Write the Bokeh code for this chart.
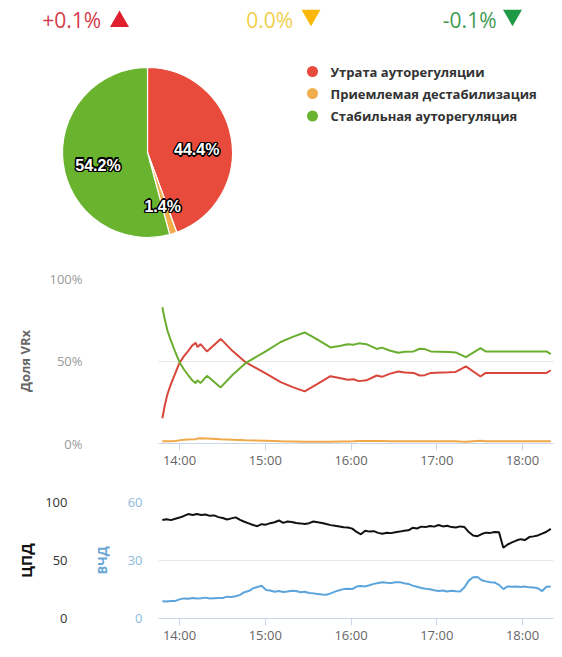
import numpy as np
from bokeh.plotting import figure
from bokeh.models import Range1d, LinearAxis, FixedTicker
from bokeh.layouts import column
from bokeh.core.properties import value
from bokeh.embed import file_html
from bokeh.resources import INLINE

# ---------------- data ----------------
CHANGE_LABELS = ["+0.1%", "0.0%", "-0.1%"]
CHANGE_MARKERS = ["triangle", "inverted_triangle", "inverted_triangle"]
CHANGE_TEXT_COLORS = ["#d43d4c", "#f0cf4c", "#3f9a52"]
CHANGE_ARROW_COLORS = ["#e0202f", "#fab80a", "#1f9a45"]

PIE_CATEGORIES = ["Утрата ауторегуляции", "Приемлемая дестабилизация", "Стабильная ауторегуляция"]
PIE_VALUES = [44.4, 1.4, 54.2]
PIE_COLORS = ["#e84a3c", "#f0ad4e", "#69b32e"]

TIME_TICKS = [14, 15, 16, 17, 18]
TIME_TICK_LABELS = ["14:00", "15:00", "16:00", "17:00", "18:00"]

VRX_TICKS = [0, 50, 100]
VRX_TICK_LABELS = ["0%", "50%", "100%"]

# share of VRx over time (hours)
VRX_TIMES = [13.80, 13.83, 13.86, 13.90, 13.95, 14.00, 14.05, 14.10, 14.15, 14.19,
             14.21, 14.245, 14.32, 14.48, 14.62, 14.77, 15.00, 15.18, 15.32, 15.46,
             15.60, 15.76, 15.88, 15.96, 16.03, 16.09, 16.18, 16.30, 16.36, 16.45,
             16.55, 16.63, 16.73, 16.80, 16.86, 16.93, 17.14, 17.22, 17.27, 17.34,
             17.51, 17.57, 18.28, 18.33]
VRX_LOSS = [15.3, 23.5, 30.0, 36.0, 42.5, 48.8, 52.8, 56.0, 59.5, 61.0,
            58.4, 60.2, 55.8, 63.4, 56.0, 49.3, 42.6, 37.2, 34.2, 31.6,
            35.8, 40.8, 39.5, 38.6, 38.9, 37.8, 38.3, 41.2, 40.4, 42.2,
            43.6, 43.0, 42.8, 41.2, 41.4, 42.8, 43.2, 43.4, 44.8, 46.7,
            40.6, 42.8, 42.8, 44.4]
VRX_ACCEPTABLE = [1.4, 1.4, 1.4, 1.4, 1.5, 1.9, 2.2, 2.4, 2.5, 2.6,
                  3.1, 3.2, 3.0, 2.6, 2.3, 2.0, 1.7, 1.3, 1.2, 1.1,
                  1.0, 1.0, 1.2, 1.2, 1.3, 1.5, 1.5, 1.5, 1.5, 1.4,
                  1.4, 1.4, 1.4, 1.4, 1.4, 1.4, 1.4, 1.4, 1.2, 1.0,
                  1.6, 1.4, 1.4, 1.4]
VRX_STABLE = [82.6, 74.8, 68.3, 62.3, 55.6, 49.3, 45.0, 41.5, 38.2, 36.6,
              38.4, 36.6, 41.0, 34.0, 41.7, 48.7, 55.7, 61.5, 64.6, 67.3,
              63.2, 58.2, 59.3, 60.2, 59.8, 60.7, 60.2, 57.3, 58.1, 56.4,
              55.0, 55.6, 55.8, 57.4, 57.2, 55.8, 55.4, 55.2, 54.0, 52.3,
              57.8, 55.8, 55.8, 54.2]

CPD_TICKS = [0, 50, 100]
VCHD_TICKS = [0, 30, 60]
PRESSURE_START_H = 13.80
PRESSURE_END_H = 18.33
CPD = [84.9, 85.6, 84.8, 86.0, 87.0, 88.4, 90.0, 89.2, 90.1, 89.3,
       89.6, 88.5, 88.9, 87.4, 86.6, 85.4, 86.3, 87.2, 85.0, 83.4,
       82.0, 80.6, 79.6, 81.3, 80.9, 82.2, 83.0, 84.5, 82.4, 83.6,
       83.2, 82.3, 82.0, 81.4, 82.2, 83.6, 83.0, 82.4, 81.4, 80.5,
       79.9, 79.3, 78.6, 78.4, 77.5, 74.6, 72.6, 75.6, 74.9, 75.3,
       73.8, 73.0, 74.0, 73.6, 74.4, 74.9, 75.6, 76.0, 78.2, 77.6,
       79.2, 78.8, 79.8, 79.2, 80.6, 79.4, 79.9, 78.8, 78.5, 79.4,
       78.8, 74.5, 71.5, 71.0, 72.8, 74.0, 73.8, 74.6, 74.4, 61.0,
       63.8, 65.6, 67.2, 68.4, 67.6, 70.2, 70.8, 71.6, 73.2, 74.8,
       77.3]
VCHD = [8.9, 8.8, 9.0, 9.1, 9.9, 10.4, 10.2, 10.6, 10.3, 10.5,
        10.8, 10.4, 10.5, 10.6, 10.6, 11.3, 11.1, 11.5, 12.2, 13.6,
        14.2, 15.6, 16.3, 16.9, 14.8, 14.5, 13.8, 14.2, 13.7, 14.0,
        14.4, 14.2, 13.6, 13.8, 13.2, 13.0, 12.7, 12.4, 12.3, 13.0,
        13.9, 14.6, 15.2, 15.4, 15.2, 16.5, 16.8, 16.6, 17.2, 17.9,
        18.4, 18.8, 18.5, 18.3, 18.7, 18.8, 18.2, 17.9, 17.0, 16.4,
        15.8, 15.4, 15.1, 14.6, 14.2, 14.5, 14.0, 14.3, 14.1, 14.0,
        16.2, 19.6, 21.3, 21.5, 19.8, 19.2, 18.8, 18.6, 17.4, 15.2,
        16.6, 16.4, 16.5, 16.3, 16.6, 16.1, 16.0, 15.6, 14.2, 16.4,
        16.6]
PRESSURE_TIMES = np.linspace(PRESSURE_START_H, PRESSURE_END_H, len(CPD))

FONT = value("Open Sans")

# ---------------- top: header, pie, legend ----------------
p1 = figure(width=556, height=250, x_range=Range1d(-8, 548), y_range=Range1d(0, 250),
            x_axis_type=None, y_axis_type=None, toolbar_location=None,
            output_backend="svg", min_border=0)
p1.outline_line_color = None
p1.xgrid.visible = False
p1.ygrid.visible = False

p1.text(x=[92.7, 284.7, 488.0], y=[230.5] * 3, text=CHANGE_LABELS, text_align="right",
        text_baseline="middle", text_font=FONT, text_font_size="21px",
        text_color=CHANGE_TEXT_COLORS)
p1.scatter(x=[111.0, 302.5, 504.0], y=[229.0, 235.3, 235.3], marker=CHANGE_MARKERS,
           size=19, fill_color=CHANGE_ARROW_COLORS, line_color=None)

vals = np.array(PIE_VALUES, dtype=float)
frac = vals / vals.sum()
cum = np.concatenate([[0.0], np.cumsum(frac)])
starts = np.pi / 2 - 2 * np.pi * cum[:-1]
ends = np.pi / 2 - 2 * np.pi * cum[1:]
cx, cy, r = 139.0, 98.0, 85.0
p1.wedge(x=cx, y=cy, radius=r, start_angle=starts, end_angle=ends, direction="clock",
         fill_color=PIE_COLORS, line_color="white", line_width=1.2)

mids = (starts + ends) / 2
lx = cx + 50 * np.cos(mids)
ly = cy + 50 * np.sin(mids)
pie_labels = ["%.1f%%" % v for v in PIE_VALUES]
for dx, dy in [(-1.5, 0), (1.5, 0), (0, -1.5), (0, 1.5), (-1.1, -1.1), (1.1, 1.1), (-1.1, 1.1), (1.1, -1.1)]:
    p1.text(x=lx, y=ly, text=pie_labels, text_align="center", text_baseline="middle",
            x_offset=dx, y_offset=6 + dy, text_font=value("Liberation Sans"),
            text_font_style="bold", text_font_size="16px", text_color="black")
p1.text(x=lx, y=ly, text=pie_labels, text_align="center", text_baseline="middle",
        y_offset=6, text_font=value("Liberation Sans"), text_font_style="bold",
        text_font_size="16px", text_color="white")

leg_y = [179.0, 157.0, 134.5]
p1.scatter(x=[304.0] * 3, y=leg_y, marker="circle", size=11, fill_color=PIE_COLORS, line_color=None)
p1.text(x=[322.0] * 3, y=leg_y, text=PIE_CATEGORIES, text_baseline="middle",
        text_font=FONT, text_font_style="bold", text_font_size="13px", text_color="#333333")

# ---------------- middle: VRx share ----------------
X_START, X_END = 13.7551, 18.3615


def style_xaxis(p, tick_out, standoff):
    ax = p.xaxis[0]
    ax.ticker = FixedTicker(ticks=TIME_TICKS)
    ax.major_label_overrides = dict(zip(TIME_TICKS, TIME_TICK_LABELS))
    ax.axis_line_color = "#ccd6eb"
    ax.major_tick_line_color = "#ccd6eb"
    ax.major_tick_out = tick_out
    ax.major_tick_in = 0
    ax.minor_tick_line_color = None
    ax.major_label_standoff = standoff
    ax.major_label_text_font = "Open Sans"
    ax.major_label_text_font_size = "13px"
    ax.major_label_text_color = "#666666"
    p.xgrid.visible = False


p2 = figure(width=556, height=225, x_range=Range1d(X_START, X_END), y_range=Range1d(0, 100),
            toolbar_location=None, output_backend="svg",
            min_border_left=158, min_border_right=3, min_border_top=28, min_border_bottom=32)
p2.outline_line_color = None
style_xaxis(p2, 7, 0)
ya = p2.yaxis[0]
ya.ticker = FixedTicker(ticks=VRX_TICKS)
ya.major_label_overrides = dict(zip(VRX_TICKS, VRX_TICK_LABELS))
ya.axis_line_color = None
ya.major_tick_line_color = None
ya.minor_tick_line_color = None
ya.major_tick_out = 0
ya.major_tick_in = 0
ya.major_label_standoff = 76
ya.major_label_text_font = "Open Sans"
ya.major_label_text_font_size = "13px"
ya.major_label_text_color = "#999999"
ya.axis_label = "Доля VRx"
ya.axis_label_text_font = "Open Sans"
ya.axis_label_text_font_style = "bold"
ya.axis_label_text_font_size = "13px"
ya.axis_label_text_color = "#666666"
ya.axis_label_standoff = 12
p2.ygrid.ticker = FixedTicker(ticks=VRX_TICKS)
p2.ygrid.grid_line_color = "#e6e6e6"

p2.line(VRX_TIMES, VRX_LOSS, line_color="#d9463c", line_width=2)
p2.line(VRX_TIMES, VRX_ACCEPTABLE, line_color="#f0a848", line_width=2)
p2.line(VRX_TIMES, VRX_STABLE, line_color="#6aad2f", line_width=2)

# ---------------- bottom: pressures ----------------
p3 = figure(width=556, height=174, x_range=Range1d(X_START, X_END), y_range=Range1d(0, 60),
            toolbar_location=None, output_backend="svg",
            min_border_left=158, min_border_right=3, min_border_top=27, min_border_bottom=31)
p3.extra_y_ranges = {"cpd": Range1d(0, 100)}
p3.outline_line_color = None
style_xaxis(p3, 7, 0)

vy = p3.yaxis[0]
vy.ticker = FixedTicker(ticks=VCHD_TICKS)
vy.axis_line_color = None
vy.major_tick_line_color = None
vy.minor_tick_line_color = None
vy.major_tick_out = 0
vy.major_tick_in = 0
vy.major_label_standoff = 16
vy.major_label_text_font = "Open Sans"
vy.major_label_text_font_size = "13px"
vy.major_label_text_color = "#8cbad9"
vy.axis_label = "ВЧД"
vy.axis_label_text_font = "Open Sans"
vy.axis_label_text_font_style = "bold"
vy.axis_label_text_font_size = "13px"
vy.axis_label_text_color = "#6aa6d6"
vy.axis_label_standoff = 14

cy_ax = LinearAxis(y_range_name="cpd")
cy_ax.ticker = FixedTicker(ticks=CPD_TICKS)
cy_ax.axis_line_color = None
cy_ax.major_tick_line_color = None
cy_ax.minor_tick_line_color = None
cy_ax.major_tick_out = 0
cy_ax.major_tick_in = 0
cy_ax.major_label_standoff = 22
cy_ax.major_label_text_font = "Open Sans"
cy_ax.major_label_text_font_size = "13px"
cy_ax.major_label_text_color = "#333333"
cy_ax.axis_label = "ЦПД"
cy_ax.axis_label_text_font = "Open Sans"
cy_ax.axis_label_text_font_style = "bold"
cy_ax.axis_label_text_font_size = "15px"
cy_ax.axis_label_text_color = "#111111"
cy_ax.axis_label_standoff = 6
p3.add_layout(cy_ax, "left")

p3.ygrid.ticker = FixedTicker(ticks=VCHD_TICKS)
p3.ygrid.grid_line_color = "#e6e6e6"

p3.line(PRESSURE_TIMES, VCHD, line_color="#5ca4dc", line_width=2)
p3.line(PRESSURE_TIMES, CPD, y_range_name="cpd", line_color="#111111", line_width=2)

for fig in (p1, p2, p3):
    if "frame_align" in fig.properties():
        fig.frame_align = False

layout = column(p1, p2, p3)
open("out.html", "w").write(file_html(layout, INLINE))
